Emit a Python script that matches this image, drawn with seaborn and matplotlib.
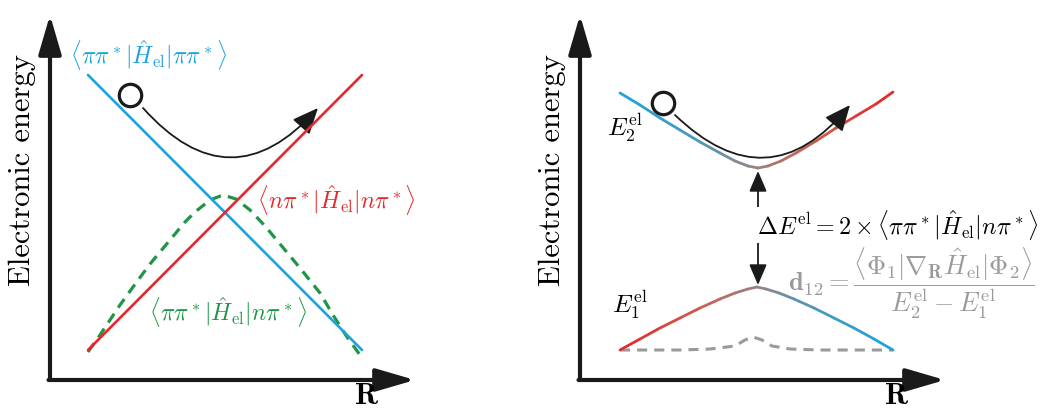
import matplotlib
matplotlib.use('Agg')
import matplotlib.pyplot as plt
import numpy as np
import seaborn as sns
from matplotlib.collections import LineCollection
from matplotlib.colors import LinearSegmentedColormap

# Left panel: diabatic states (coordinates R, energy E, arbitrary units)
diab_R = [38, 312]
pipi_E = [305, 30]
npi_E = [30, 305]
coup_R = [38, 50, 60, 70, 83, 100, 120, 135, 145, 160, 173, 186, 200, 215, 230, 250, 270, 283, 297, 310]
coup_E = [28, 45, 60, 75, 93, 116, 140, 158, 168, 180, 185, 181, 170, 154, 136, 112, 87, 65, 43, 25]

# Right panel: adiabatic states
up_R = [40, 60, 80, 100, 120, 140, 155, 168, 178, 188, 201, 216, 236, 256, 276, 296, 313]
up_E = [287, 275, 262, 250, 238, 227, 219, 214, 212, 214, 219, 227, 239, 252, 264, 276, 288]
lo_R = [40, 60, 80, 100, 120, 140, 155, 168, 177, 186, 199, 214, 234, 254, 274, 294, 313]
lo_E = [30, 41, 52, 62, 72, 81, 87, 91, 93, 91, 87, 81, 72, 62, 52, 41, 30]
nac_R = [40, 70, 100, 130, 155, 165, 173, 182, 192, 210, 240, 270, 313]
nac_E = [30, 30, 30, 31, 34, 40, 43, 40, 34, 31, 30, 30, 30]

# wavepacket position and path (start, end)
left_ball = (80, 285)
left_path = [(93, 272), (268, 272)]
right_ball = (83, 277)
right_path = [(95, 265), (270, 275)]
gap_R = 178
gap_E = [209, 95]

BLUE = '#1ba3de'
RED = '#e8262b'
GREEN = '#1e9645'
GREY = '#9a9a9a'

sns.set_theme(style='white')
plt.rcParams['mathtext.fontset'] = 'cm'
plt.rcParams['font.family'] = ['cmr10', 'DejaVu Serif']
plt.rcParams['axes.formatter.use_mathtext'] = True
plt.rcParams['text.color'] = 'black'

fig = plt.figure(figsize=(10.52, 4.08), dpi=100)
ax1 = fig.add_axes([50 / 1052, 28 / 408, 365 / 1052, 365 / 408])
ax2 = fig.add_axes([580 / 1052, 28 / 408, 365 / 1052, 365 / 408])

LAB = 16.5

for ax in (ax1, ax2):
    ax.set_xlim(0, 365)
    ax.set_ylim(0, 365)
    ax.axis('off')
    big = '-|>,head_length=2.4,head_width=0.7'
    ax.annotate('', xy=(0, 1), xytext=(0, 0), xycoords='axes fraction',
                arrowprops=dict(arrowstyle=big, lw=3, color='k', shrinkA=0, shrinkB=0,
                                mutation_scale=10), annotation_clip=False)
    ax.annotate('', xy=(1, 0), xytext=(-0.004, 0), xycoords='axes fraction',
                arrowprops=dict(arrowstyle=big, lw=3, color='k', shrinkA=0, shrinkB=0,
                                mutation_scale=10), annotation_clip=False)
    ax.text(-28, 210, 'Electronic energy', rotation=90, fontsize=22,
            ha='center', va='center', clip_on=False)
    ax.text(316, -16, r'$\mathbf{R}$', fontsize=22, ha='center', va='center', clip_on=False)

# ---- left panel
sns.lineplot(x=coup_R, y=coup_E, ax=ax1, color=GREEN, lw=2.3, zorder=2,
             linestyle=(0, (3.3, 2.3)), sort=False)
sns.lineplot(x=diab_R, y=pipi_E, ax=ax1, color=BLUE, lw=1.9, zorder=3)
sns.lineplot(x=diab_R, y=npi_E, ax=ax1, color=RED, lw=1.9, zorder=4)

ax1.text(99, 325, r'$\langle\pi\pi^*|\hat{H}_{\mathrm{el}}|\pi\pi^*\rangle$', color=BLUE,
         fontsize=LAB + 0.5, ha='center', va='center')
ax1.text(207, 180, r'$\langle n\pi^*|\hat{H}_{\mathrm{el}}|n\pi^*\rangle$', color=RED,
         fontsize=LAB + 0.5, ha='left', va='center', clip_on=False)
ax1.text(178, 68, r'$\langle\pi\pi^*|\hat{H}_{\mathrm{el}}|n\pi^*\rangle$', color=GREEN,
         fontsize=LAB + 0.5, ha='center', va='center')

# ---- right panel
cmap = LinearSegmentedColormap.from_list(
    'br', [(0, BLUE), (0.3, '#4f98b8'), (0.5, '#9a8282'), (0.7, '#c8604f'), (1, RED)])


def grad_line(ax, R, E, reverse=False):
    pts = np.column_stack([R, E])
    segs = np.stack([pts[:-1], pts[1:]], axis=1)
    mid = (np.array(R[:-1]) + np.array(R[1:])) / 2
    t = (mid - min(R)) / (max(R) - min(R))
    if reverse:
        t = 1 - t
    lc = LineCollection(segs, colors=cmap(t), linewidths=2.0, capstyle='round',
                        joinstyle='round', zorder=3)
    ax.add_collection(lc)


sns.lineplot(x=nac_R, y=nac_E, ax=ax2, color=GREY, lw=2.2, zorder=2,
             linestyle=(0, (3.3, 2.3)), sort=False)
grad_line(ax2, up_R, up_E)
grad_line(ax2, lo_R, lo_E, reverse=True)

ax2.text(45, 252, r'$E_2^{\mathrm{el}}$', fontsize=LAB + 1.5, ha='center', va='center')
ax2.text(50, 75, r'$E_1^{\mathrm{el}}$', fontsize=LAB + 1.5, ha='center', va='center')

ax2.annotate('', xy=(gap_R, gap_E[0]), xytext=(gap_R, gap_E[1]),
             arrowprops=dict(arrowstyle='<|-|>,head_length=0.7,head_width=0.3', lw=1.3,
                             color='k', shrinkA=0, shrinkB=0, mutation_scale=18))
ax2.text(177, 155,
         r'$\Delta E^{\mathrm{el}} = 2\times\langle\pi\pi^*|\hat{H}_{\mathrm{el}}|n\pi^*\rangle$',
         fontsize=LAB + 0.8, ha='left', va='center', clip_on=False, zorder=5,
         bbox=dict(facecolor='white', edgecolor='none', pad=0.5))
ax2.text(208, 97,
         r'$\mathbf{d}_{12} = \dfrac{\langle\Phi_1|\nabla_{\mathbf{R}}\hat{H}_{\mathrm{el}}|\Phi_2\rangle}'
         r'{E_2^{\mathrm{el}} - E_1^{\mathrm{el}}}$',
         fontsize=LAB + 2.5, color=GREY, ha='left', va='center', clip_on=False)

# wavepacket + motion arrows
for ax, ball, path, rad in ((ax1, left_ball, left_path, 0.56), (ax2, right_ball, right_path, 0.54)):
    sns.scatterplot(x=[ball[0]], y=[ball[1]], ax=ax, s=260, facecolor='white',
                    edgecolor='k', linewidth=2.3, zorder=6)
    ax.annotate('', xy=path[1], xytext=path[0],
                arrowprops=dict(arrowstyle='-|>,head_length=0.8,head_width=0.35', lw=1.3,
                                color='k', shrinkA=0, shrinkB=0, mutation_scale=20,
                                connectionstyle=f'arc3,rad={rad}'))

fig.savefig('out.png', dpi=100)
